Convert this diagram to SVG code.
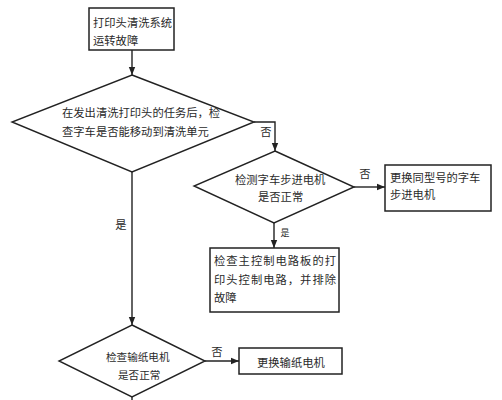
<svg xmlns="http://www.w3.org/2000/svg" width="502" height="400" viewBox="0 0 502 400">
<style>
.box{fill:#fff;stroke:#222;stroke-width:1.5}
.dia{fill:#fff;stroke:#222;stroke-width:1.4}
.ln{fill:none;stroke:#222;stroke-width:1.4}
text{font-family:"Noto Sans CJK SC","Noto Sans",sans-serif;font-size:11.3px;fill:#2a2a2a}
.lbl{text-anchor:middle}
.sm{font-size:9px}
.d3t{font-size:10.6px}
</style>
<defs>
<marker id="ah" viewBox="0 0 10 10" refX="10" refY="5" markerWidth="8" markerHeight="8" markerUnits="userSpaceOnUse" orient="auto">
<path d="M0,1 L10,5 L0,9 Z" fill="#222"/>
</marker>
</defs>
<rect width="502" height="400" fill="#fff"/>
<g id="connectors">
<path class="ln" d="M132,50 V75" marker-end="url(#ah)"/>
<path class="ln" d="M254,122 H275 V151" marker-end="url(#ah)"/>
<path class="ln" d="M354,187 H385" marker-end="url(#ah)"/>
<path class="ln" d="M274,223 V248" marker-end="url(#ah)"/>
<path class="ln" d="M132,172 V325" marker-end="url(#ah)"/>
<path class="ln" d="M205,361 H239" marker-end="url(#ah)"/>
<path class="ln" d="M132,397 V400"/>
<text class="lbl" x="266" y="136">否</text>
<text class="lbl" x="365" y="178">否</text>
<text class="lbl sm" x="285" y="236">是</text>
<text class="lbl" x="121" y="229">是</text>
<text class="lbl" x="217" y="356">否</text>
</g>
<g id="start">
<rect class="box" x="89" y="8" width="85" height="42"/>
<text x="93" y="27">打印头清洗系统</text>
<text x="93" y="45">运转故障</text>
</g>
<g id="d1">
<polygon class="dia" points="132,75 254,122 132,172 12,122"/>
<text x="62" y="117">在发出清洗打印头的任务后，检</text>
<text x="62" y="136">查字车是否能移动到清洗单元</text>
</g>
<g id="d2">
<polygon class="dia" points="275,151 354,187 274,223 194,186"/>
<text x="235" y="184">检测字车步进电机</text>
<text x="258" y="201">是否正常</text>
</g>
<g id="r1">
<rect class="box" x="385" y="165" width="106" height="46"/>
<text x="390" y="182">更换同型号的字车</text>
<text x="390" y="199">步进电机</text>
</g>
<g id="r2">
<rect class="box" x="210" y="248" width="129" height="64"/>
<text x="214" y="265" textLength="122" lengthAdjust="spacing">检查主控制电路板的打</text>
<text x="214" y="284" textLength="122" lengthAdjust="spacing">印头控制电路，并排除</text>
<text x="214" y="302">故障</text>
</g>
<g id="d3">
<polygon class="dia" points="132,325 205,361 132,397 59,361"/>
<text class="d3t" x="106" y="361">检查输纸电机</text>
<text class="d3t" x="118" y="379">是否正常</text>
</g>
<g id="r3">
<rect class="box" x="239" y="348" width="103" height="26"/>
<text x="257" y="367">更换输纸电机</text>
</g>
</svg>
